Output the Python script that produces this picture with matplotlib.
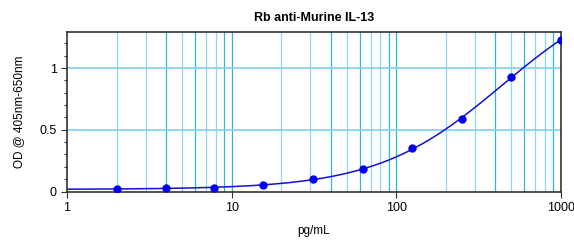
import numpy as np
import matplotlib
matplotlib.use("Agg")
import matplotlib.pyplot as plt
from matplotlib.ticker import FixedLocator, NullFormatter

plt.rcParams['font.family'] = ['Liberation Sans', 'DejaVu Sans']

# standard curve points
conc = [2, 4, 7.8, 15.6, 31.25, 62.5, 125, 250, 500, 1000]
od = [0.02, 0.03, 0.03, 0.05, 0.10, 0.18, 0.35, 0.59, 0.93, 1.23]
title = "Rb anti-Murine IL-13"
xlab = "pg/mL"
ylab = "OD @ 405nm-650nm"


def fpl(x, p):
    a, b, c, d = p
    return d + (a - d) / (1 + (x / c) ** b)


# 4 parameter logistic fit (damped Gauss-Newton)
x = np.array(conc, float)
y = np.array(od, float)
p = np.array([0.02, 1.5, 600.0, 2.5])
lam = 1e-2
for i in range(300):
    r = y - fpl(x, p)
    J = np.zeros((len(x), 4))
    for k in range(4):
        dp = np.zeros(4)
        dp[k] = 1e-6 * max(abs(p[k]), 1)
        J[:, k] = (fpl(x, p + dp) - fpl(x, p)) / dp[k]
    A = J.T @ J
    step = np.linalg.solve(A + lam * np.diag(np.diag(A)), J.T @ r)
    pn = p + step
    if pn[2] > 0 and np.sum((y - fpl(x, pn)) ** 2) < np.sum(r ** 2):
        p = pn
        lam *= 0.5
    else:
        lam *= 4

xs = np.logspace(0, 3, 300)

fig = plt.figure(figsize=(5.74, 2.4), dpi=100)
ax = fig.add_axes([67 / 574, 1 - 191.5 / 240, (561 - 67) / 574, (191.5 - 32) / 240])
ax.set_xscale('log')
ax.set_xlim(1, 1000)
ax.set_ylim(0, 1.293)

# grid
for dec in [1, 10, 100]:
    for m in range(2, 10):
        col = '#2fb4e6' if m in (4, 6, 9) else '#8fd6f2'
        ax.axvline(dec * m, color=col, lw=0.9, zorder=0)
for v in [10, 100]:
    ax.axvline(v, color='#2fb4e6', lw=0.9, zorder=0)
for h in [0.5, 1.0]:
    ax.axhline(h, color='#7fd0f0', lw=1.2, zorder=0)

ax.plot(xs, fpl(xs, p), color='#1010dd', lw=1.1, zorder=2)
ax.plot(conc, od, 'o', color='#0000ee', ms=5, zorder=3)

ax.set_yticks([0, 0.5, 1])
ax.set_yticklabels(['0', '0.5', '1'])
ax.yaxis.set_minor_locator(FixedLocator([0.1, 0.2, 0.3, 0.4, 0.6, 0.7, 0.8, 0.9, 1.1, 1.2]))
ax.set_xticks([1, 10, 100, 1000])
ax.set_xticklabels(['1', '10', '100', '1000'])
ax.xaxis.set_minor_locator(FixedLocator([]))
ax.xaxis.set_minor_formatter(NullFormatter())
ax.tick_params(axis='both', which='major', labelsize=9, length=4, width=0.8, color='#333333')
ax.tick_params(axis='y', which='minor', length=2.5, width=0.8, color='#333333')
for s in ax.spines.values():
    s.set_color('#333333')
    s.set_linewidth(1.2)

ax.set_title(title, fontsize=9, fontweight='bold', pad=8)
ax.set_xlabel(xlab, fontsize=8.5, labelpad=8)
ax.set_ylabel(ylab, fontsize=8.5, labelpad=10)

fig.savefig('out.png', dpi=100)
